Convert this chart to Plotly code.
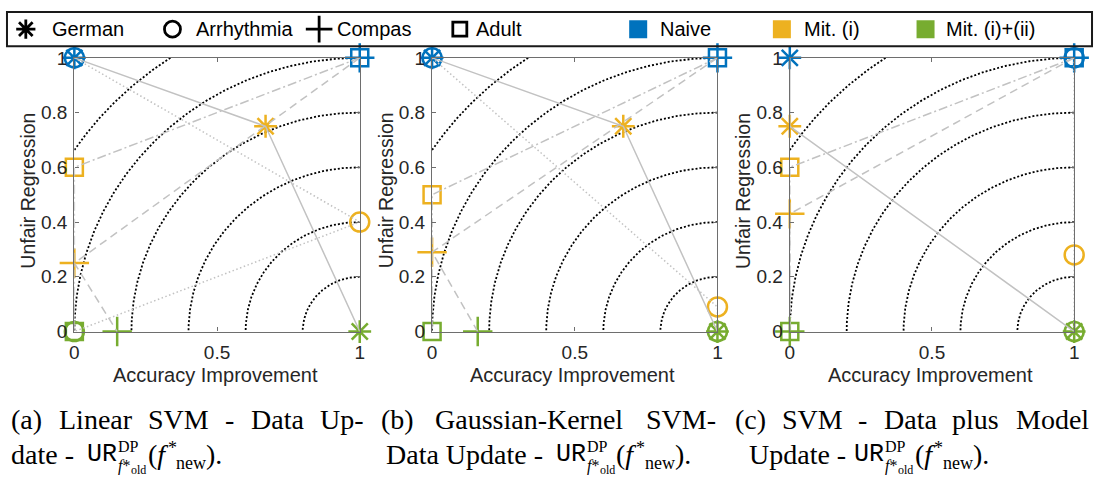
import numpy as np
import plotly.graph_objects as go

W, H = 1099, 488

# ---------------- data ----------------
DATASETS = ["German", "Arrhythmia", "Compas", "Adult"]
STAGES = ["Naive", "Mit. (i)", "Mit. (i)+(ii)"]
STAGE_COLORS = ["#0072BD", "#EDB120", "#77AC30"]
X_TICKS = [0, 0.5, 1]
X_TICK_TEXT = ["0", "0.5", "1"]
Y_TICKS = [0, 0.2, 0.4, 0.6, 0.8, 1]
Y_TICK_TEXT = ["0", "0.2", "0.4", "0.6", "0.8", "1"]
ARC_RADII = [0.2, 0.4, 0.6, 0.8, 1.0, 1.2]

# accuracy improvement / unfair regression for [Naive, Mit. (i), Mit. (i)+(ii)]
# (a) Linear SVM - Data Update
A_GERMAN_ACC = [0, 0.67, 1]
A_GERMAN_UR = [1, 0.75, 0]
A_ARRHY_ACC = [0, 1, 0]
A_ARRHY_UR = [1, 0.40, 0]
A_COMPAS_ACC = [1, 0, 0.15]
A_COMPAS_UR = [1, 0.25, 0]
A_ADULT_ACC = [1, 0, 0]
A_ADULT_UR = [1, 0.60, 0]

# (b) Gaussian-Kernel SVM - Data Update
B_GERMAN_ACC = [0, 0.67, 1]
B_GERMAN_UR = [1, 0.75, 0]
B_ARRHY_ACC = [0, 1, 1]
B_ARRHY_UR = [1, 0.09, 0]
B_COMPAS_ACC = [1, 0, 0.16]
B_COMPAS_UR = [1, 0.29, 0]
B_ADULT_ACC = [1, 0, 0]
B_ADULT_UR = [1, 0.50, 0]

# (c) SVM - Data plus Model Update
C_GERMAN_ACC = [0, 0, 1]
C_GERMAN_UR = [1, 0.75, 0]
C_ARRHY_ACC = [1, 1, 1]
C_ARRHY_UR = [1, 0.28, 0]
C_COMPAS_ACC = [1, 0, 0]
C_COMPAS_UR = [1, 0.43, 0]
C_ADULT_ACC = [1, 0, 0]
C_ADULT_UR = [1, 0.60, 0]

PANELS = [
    {"German": (A_GERMAN_ACC, A_GERMAN_UR), "Arrhythmia": (A_ARRHY_ACC, A_ARRHY_UR),
     "Compas": (A_COMPAS_ACC, A_COMPAS_UR), "Adult": (A_ADULT_ACC, A_ADULT_UR)},
    {"German": (B_GERMAN_ACC, B_GERMAN_UR), "Arrhythmia": (B_ARRHY_ACC, B_ARRHY_UR),
     "Compas": (B_COMPAS_ACC, B_COMPAS_UR), "Adult": (B_ADULT_ACC, B_ADULT_UR)},
    {"German": (C_GERMAN_ACC, C_GERMAN_UR), "Arrhythmia": (C_ARRHY_ACC, C_ARRHY_UR),
     "Compas": (C_COMPAS_ACC, C_COMPAS_UR), "Adult": (C_ADULT_ACC, C_ADULT_UR)},
]

# ---------------- styles ----------------
SYMBOL = {"German": "asterisk-open", "Arrhythmia": "circle-open",
          "Compas": "cross-thin-open", "Adult": "square-open"}
MSIZE = {"German": 19, "Arrhythmia": 19, "Compas": 21, "Adult": 17}
LEG_MSIZE = {"German": 16, "Arrhythmia": 16, "Compas": 19, "Adult": 14}
DASH = {"German": "solid", "Arrhythmia": "1.5px,2.5px",
        "Compas": "8px,5px", "Adult": "9px,3px,2px,3px"}
GRAY = "#c2c2c2"
SANS = "Liberation Sans, Arial, sans-serif"
SERIF = "Liberation Serif, Times New Roman, serif"
MONO = "Liberation Mono, DejaVu Sans Mono, monospace"
TXT = "#262626"

# panel pixel boxes (left, right), (top, bottom)
PX = [(70, 358), (431, 719), (792, 1079)]
PY = (50, 336)


def px2x(p):
    return p / W


def px2y(p):
    return 1 - p / H


fig = go.Figure()

for i, panel in enumerate(PANELS):
    n = "" if i == 0 else str(i + 1)
    xa, ya = "x" + n, "y" + n
    # reference arcs centred at (1, 0)
    for r in ARC_RADII:
        tmin = max(np.pi / 2, np.pi - np.arcsin(min(1.0, 1.0 / r)))
        tmax = min(np.pi, np.arccos(max(-1.0, -1.0 / r)))
        th = np.linspace(tmin, tmax, 200)
        fig.add_trace(go.Scatter(x=1 + r * np.cos(th), y=r * np.sin(th), mode="lines",
                                 line=dict(color="black", width=1.8, dash="2px,2px"),
                                 xaxis=xa, yaxis=ya, showlegend=False, hoverinfo="skip"))
    # markers
    for ds in DATASETS:
        acc, ur = panel[ds]
        fig.add_trace(go.Scatter(x=acc, y=ur, mode="markers", xaxis=xa, yaxis=ya,
                                 showlegend=False, cliponaxis=False,
                                 marker=dict(symbol=SYMBOL[ds], size=MSIZE[ds], color=STAGE_COLORS,
                                             line=dict(color=STAGE_COLORS, width=2.5))))
    # connecting lines
    for ds in DATASETS:
        acc, ur = panel[ds]
        fig.add_trace(go.Scatter(x=acc, y=ur, mode="lines", xaxis=xa, yaxis=ya,
                                 showlegend=False, cliponaxis=False,
                                 line=dict(color=GRAY, width=1.5, dash=DASH[ds])))

    l, r_ = PX[i]
    axis_common = dict(showgrid=False, zeroline=False, showline=True, linecolor="#6e6e6e",
                       linewidth=1.3, mirror="ticks", ticks="inside", ticklen=4,
                       tickcolor="#6e6e6e", tickfont=dict(family=SANS, size=19, color=TXT))
    fig.update_layout(**{
        "xaxis" + n: dict(domain=[px2x(l), px2x(r_)], range=[0, 1], tickvals=X_TICKS,
                          ticktext=X_TICK_TEXT, anchor=ya, ticklabelstandoff=4, **axis_common),
        "yaxis" + n: dict(domain=[px2y(PY[1]), px2y(PY[0])], range=[0, 1], tickvals=Y_TICKS,
                          ticktext=Y_TICK_TEXT, anchor=xa, ticklabelstandoff=2, **axis_common),
    })
    # axis titles
    fig.add_annotation(x=px2x((l + r_) / 2 - 2), y=px2y(381), xref="paper", yref="paper",
                       text="Accuracy Improvement", showarrow=False, borderpad=0,
                       font=dict(family=SANS, size=20, color=TXT), xanchor="center", yanchor="middle")
    fig.add_annotation(x=px2x(l - 47), y=px2y(189), xref="paper", yref="paper",
                       text="Unfair Regression", showarrow=False, textangle=-90, borderpad=0,
                       font=dict(family=SANS, size=19.5, color=TXT), xanchor="center", yanchor="middle")

# ---------------- legend strip ----------------
fig.update_layout(
    xaxis4=dict(domain=[0, 1], range=[0, W], visible=False, anchor="y4"),
    yaxis4=dict(domain=[px2y(40), 1], range=[40, 0], visible=False, anchor="x4"),
)
LEG_SYM_X = [21, 169, 317, 459]
LEG_TXT_X = [45, 191, 333, 473]
for ds, sx, tx in zip(DATASETS, LEG_SYM_X, LEG_TXT_X):
    fig.add_trace(go.Scatter(x=[sx], y=[20], mode="markers", xaxis="x4", yaxis="y4",
                             showlegend=False, hoverinfo="skip",
                             marker=dict(symbol=SYMBOL[ds], size=LEG_MSIZE[ds], color="black",
                                         line=dict(color="black", width=2.8))))
    fig.add_annotation(x=px2x(tx), y=px2y(20), xref="paper", yref="paper", text=ds,
                       showarrow=False, xanchor="left", yanchor="middle",
                       font=dict(family=SANS, size=20, color="black"))
LEG_SQ_X = [639, 784, 929]
LEG_STXT_X = [659, 804, 948]
for st, col, sx, tx in zip(STAGES, STAGE_COLORS, LEG_SQ_X, LEG_STXT_X):
    fig.add_trace(go.Scatter(x=[sx], y=[20], mode="markers", xaxis="x4", yaxis="y4",
                             showlegend=False, hoverinfo="skip",
                             marker=dict(symbol="square", size=18, color=col)))
    fig.add_annotation(x=px2x(tx), y=px2y(20), xref="paper", yref="paper", text=st,
                       showarrow=False, xanchor="left", yanchor="middle",
                       font=dict(family=SANS, size=20, color="black"))
fig.add_shape(type="rect", xref="paper", yref="paper", x0=px2x(2), x1=px2x(1097),
              y0=px2y(38), y1=px2y(2), line=dict(color="#1a1a1a", width=2))

# ---------------- captions ----------------
def txt(s, x, y, size=28, family=SERIF, anchor="left"):
    fig.add_annotation(x=px2x(x), y=px2y(y), xref="paper", yref="paper", text=s,
                       showarrow=False, xanchor=anchor, yanchor="middle", borderpad=0,
                       font=dict(family=family, size=size, color="black"))


L1, L2 = 428, 465
# line 1 (justified by placing words)
for s, x in [("(a)", 5), ("Linear", 53), ("SVM", 143), ("-", 221), ("Data", 247), ("Up-", 317)]:
    txt(s, x, L1)
for s, x in [("(b)", 378), ("Gaussian-Kernel", 433), ("SVM-", 646)]:
    txt(s, x, L1)
for s, x in [("(c)", 736), ("SVM", 783), ("-", 860), ("Data", 886), ("plus", 955), ("Model", 1019)]:
    txt(s, x, L1)


def ur_expr(x0):
    # UR^{DP}_{f*_old}(f*_new).
    txt("UR", x0, L2, size=25, family=MONO)
    txt("DP", x0 + 31, L2 - 9, size=16)
    txt("<i>f</i>*", x0 + 31, L2 + 12, size=16)
    txt("old", x0 + 44, L2 + 16, size=12)
    txt("(<i>f</i>", x0 + 61, L2, size=28)
    txt("*", x0 + 81, L2 - 7, size=18)
    txt("new", x0 + 90, L2 + 8, size=18)
    txt(").", x0 + 120, L2, size=28)


txt("date -", 5, L2)
ur_expr(82)
txt("Data Update -", 383, L2)
ur_expr(555)
txt("Update -", 750, L2)
ur_expr(856)

fig.update_layout(width=W, height=H, margin=dict(l=0, r=0, t=0, b=0),
                  paper_bgcolor="white", plot_bgcolor="white", showlegend=False)

fig.write_html("out.html")
